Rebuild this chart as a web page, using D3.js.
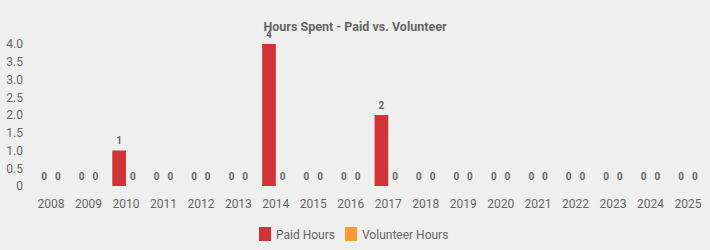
<!DOCTYPE html>
<html><head><meta charset="utf-8">
<script src="https://cdn.jsdelivr.net/npm/d3@7"></script>
<style>
html,body{margin:0;padding:0;background:#efefef;}
svg{display:block;font-family:Roboto, "Liberation Sans", sans-serif;}
</style></head>
<body>
<svg id="chart" width="710" height="250"></svg>
<script>
const title = "Hours Spent - Paid vs. Volunteer";
const years = ["2008","2009","2010","2011","2012","2013","2014","2015","2016","2017","2018","2019","2020","2021","2022","2023","2024","2025"];
const seriesNames = ["Paid Hours","Volunteer Hours"];
const paidHours = [0,0,1,0,0,0,4,0,0,2,0,0,0,0,0,0,0,0];
const volunteerHours = [0,0,0,0,0,0,0,0,0,0,0,0,0,0,0,0,0,0];
const yTicks = [0,0.5,1,1.5,2,2.5,3,3.5,4];
const colors = ["#d03434","#ff9933"];

const svg = d3.select("#chart");
const W = 710, H = 250;
const plot = {left: 32.3, right: 706.7, top: 44, bottom: 186};

const x0 = d3.scaleBand().domain(years).range([plot.left, plot.right]).paddingInner(0.27).paddingOuter(0.135);
const x1 = d3.scaleBand().domain(seriesNames).range([0, x0.bandwidth()]).padding(0);
const y = d3.scaleLinear().domain([0, 4]).range([plot.bottom, plot.top]);

svg.append("rect").attr("width", W).attr("height", H).attr("fill", "#efefef");

// title
svg.append("text").attr("x", 355).attr("y", 31).attr("text-anchor", "middle")
  .attr("font-size", 12.5).attr("font-weight", "bold").attr("fill", "#666").text(title);

// y axis
const yAxis = d3.axisLeft(y).tickValues(yTicks).tickSize(0).tickPadding(0)
  .tickFormat(d => d === 0 ? "0" : d.toFixed(1));
const gy = svg.append("g").attr("transform", "translate(23,0)").call(yAxis);
gy.select(".domain").remove();
gy.selectAll("text").attr("font-size", 12).attr("fill", "#666").attr("font-family", "Roboto, sans-serif");

// x axis
const xAxis = d3.axisBottom(x0).tickSize(0).tickPadding(0);
const gx = svg.append("g").attr("transform", "translate(0,199)").call(xAxis);
gx.select(".domain").remove();
gx.selectAll("text").attr("font-size", 12).attr("fill", "#666").attr("font-family", "Roboto, sans-serif");

// data
const data = years.map((yr, i) => ({year: yr, values: [
  {name: seriesNames[0], v: paidHours[i]},
  {name: seriesNames[1], v: volunteerHours[i]}
]}));

const groups = svg.append("g").selectAll("g").data(data).join("g")
  .attr("transform", d => `translate(${x0(d.year)},0)`);

groups.selectAll("rect").data(d => d.values).join("rect")
  .attr("x", d => x1(d.name))
  .attr("width", x1.bandwidth())
  .attr("y", d => y(d.v))
  .attr("height", d => y(0) - y(d.v))
  .attr("fill", (d, i) => colors[i]);

groups.selectAll("text").data(d => d.values).join("text")
  .attr("x", d => x1(d.name) + x1.bandwidth() / 2)
  .attr("y", d => y(d.v) - 6.5)
  .attr("text-anchor", "middle")
  .attr("font-size", 10).attr("font-weight", "bold").attr("fill", "#666")
  .text(d => d.v);

// legend
const legend = svg.append("g");
const legX = [259, 345];
seriesNames.forEach((n, i) => {
  legend.append("rect").attr("x", legX[i]).attr("y", 227).attr("width", 12).attr("height", 14).attr("fill", colors[i]);
  legend.append("text").attr("x", legX[i] + 17).attr("y", 238.5)
    .attr("font-size", 12).attr("fill", "#666").text(n);
});
</script>
</body></html>
